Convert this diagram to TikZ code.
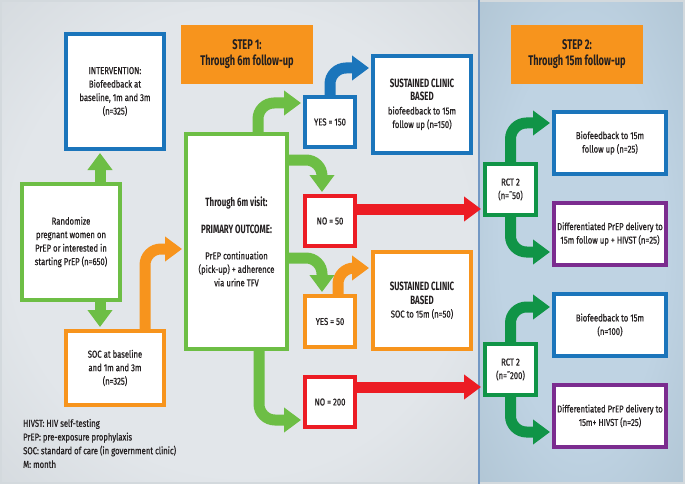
\documentclass[tikz,border=0pt]{standalone}
\usepackage{fontspec}
\setmainfont{Fira Sans}[FakeStretch=0.77, FakeBold=0.6]
\newfontfamily\headfont{Fira Sans}[FakeStretch=0.66]
\usetikzlibrary{arrows.meta}
\definecolor{verde}{HTML}{6DBE45}
\definecolor{verdeosc}{HTML}{109447}
\definecolor{azul}{HTML}{1B75BB}
\definecolor{rojo}{HTML}{EC1C24}
\definecolor{naranja}{HTML}{F7941D}
\definecolor{morado}{HTML}{7B2C8F}
\definecolor{texto}{HTML}{231F20}
\definecolor{fondoA}{HTML}{E2E6EA}
\definecolor{fondoM}{HTML}{C6CDD2}
\definecolor{fondoB}{HTML}{82929B}
\definecolor{fondoC}{HTML}{BFD3E3}
\definecolor{fondoN}{HTML}{A5BAC8}
\definecolor{fondoD}{HTML}{6F8996}
\definecolor{linea}{HTML}{7398C4}
\definecolor{marco}{HTML}{D3D9DD}
\pgfdeclareradialshading{fondoizq}{\pgfpoint{0bp}{0bp}}{color(0bp)=(fondoA); color(24bp)=(fondoA); color(50bp)=(fondoM); color(71bp)=(fondoB)}
\pgfdeclareradialshading{fondoder}{\pgfpoint{0bp}{0bp}}{color(0bp)=(fondoC); color(20bp)=(fondoC); color(50bp)=(fondoN); color(71bp)=(fondoD)}
\newcommand{\tit}{\headfont\bfseries\fontsize{12}{15}\selectfont}

\begin{document}
\begin{tikzpicture}[x=1pt, y=-1pt,
  caja/.style={draw, line width=4pt, fill=white, align=center, inner sep=0pt, text=texto, font=\fontsize{10}{13.5}\selectfont},
  paso/.style={fill=naranja, align=center, minimum width=132pt, minimum height=59pt, inner sep=0pt, text=texto, font=\headfont\bfseries\fontsize{14}{16}\selectfont},
  flecha/.style={line width=11pt, rounded corners=16pt, -{Triangle[width=24pt,length=17pt]}, shorten >=2pt},
  vh/.style={to path={|- (\tikztotarget)}},
  hv/.style={to path={-| (\tikztotarget)}}]
\useasboundingbox (0,0) rectangle (685,484);
% Fondo
\shade[shading=fondoizq] (0,0) rectangle (479,484);
\shade[shading=fondoder] (479,0) rectangle (685,484);
\draw[marco, line width=2pt] (1,1) rectangle (684,483);
\draw[linea, line width=2pt] (479,0) -- (479,484);
% Nodos
\node [paso] (paso1) at (247,54.5) {STEP 1:\\Through 6m follow-up};
\node [paso] (paso2) at (577,54.5) {STEP 2:\\Through 15m follow-up};

\node [caja, draw=verde, minimum width=98pt, minimum height=116pt] (rand) at (71,242) {Randomize\\pregnant women on\\PrEP or interested in\\starting PrEP (n=650)};
\node [caja, draw=azul, minimum width=98pt, minimum height=115pt] (interv) at (115,91.5) {INTERVENTION:\\Biofeedback at\\baseline, 1m and 3m\\(n=325)};
\node [caja, draw=naranja, minimum width=98pt, minimum height=74pt] (soc) at (115,368) {SOC at baseline\\and 1m and 3m\\(n=325)};
\node [caja, draw=verde, minimum width=101pt, minimum height=215pt] (visit) at (236.5,241.5) {{\tit Through 6m visit:}\\[14pt]{\tit PRIMARY OUTCOME:}\\[12pt]PrEP continuation\\(pick-up) + adherence\\via urine TFV};

\node [caja, draw=azul, minimum width=50pt, minimum height=50pt] (yes150) at (330,122) {YES = 150};
\node [caja, draw=rojo, minimum width=50pt, minimum height=50pt] (no50) at (330,221) {NO = 50};
\node [caja, draw=naranja, minimum width=50pt, minimum height=51pt] (yes50) at (330,321.5) {YES = 50};
\node [caja, draw=rojo, minimum width=50pt, minimum height=50pt] (no200) at (330,402) {NO = 200};

\node [caja, draw=azul, minimum width=98pt, minimum height=97pt] (sust1) at (422,104.5) {{\tit SUSTAINED CLINIC}\\{\tit BASED}\\biofeedback to 15m\\follow up (n=150)};
\node [caja, draw=naranja, minimum width=98pt, minimum height=97pt] (sust2) at (422,300.5) {{\tit SUSTAINED CLINIC}\\{\tit BASED}\\SOC to 15m (n=50)};

\node [caja, draw=verdeosc, minimum width=51pt, minimum height=51pt] (rct1) at (510.5,189.5) {RCT 2\\(n=˜50)};
\node [caja, draw=verdeosc, minimum width=51pt, minimum height=51pt] (rct2) at (510.5,369.5) {RCT 2\\(n=˜200)};

\node [caja, draw=azul, minimum width=112pt, minimum height=62pt] (bio1) at (610,143) {Biofeedback to 15m\\follow up (n=25)};
\node [caja, draw=morado, minimum width=112pt, minimum height=62pt] (diff1) at (610,234) {Differentiated PrEP delivery to\\15m follow up + HIVST (n=25)};
\node [caja, draw=azul, minimum width=112pt, minimum height=62pt] (bio2) at (610,325) {Biofeedback to 15m\\(n=100)};
\node [caja, draw=morado, minimum width=112pt, minimum height=62pt] (diff2) at (610,416) {Differentiated PrEP delivery to\\15m+ HIVST (n=25)};

\node [anchor=west, align=left, inner sep=0pt, text=texto, font=\fontsize{10}{13.7}\selectfont] (leyenda) at (23,443.5) {HIVST: HIV self-testing\\PrEP: pre-exposure prophylaxis\\SOC: standard of care (in government clinic)\\M: month};
% Flechas
% ---
% Randomize
% ---
\path ([xshift=29pt]rand.north) edge [flecha, verde] ([xshift=29pt]rand.north |- interv.south);
\path ([xshift=29pt]rand.south) edge [flecha, verde] ([xshift=29pt]rand.south |- soc.north);
\path ([xshift=30pt]soc.north) edge [flecha, naranja, vh] ([yshift=-7.5pt]visit.west);
% ---
% Through 6m visit
% ---
\path ([xshift=21.5pt]visit.north) edge [flecha, verde, vh] ([yshift=19pt]yes150.west);
\path ([yshift=81.5pt]visit.east) edge [flecha, verde, hv] ([xshift=-8pt]no50.north);
\path ([yshift=-16.5pt]visit.east) edge [flecha, verde, hv] ([xshift=-8pt]yes50.north);
\path ([xshift=22.5pt]visit.south) edge [flecha, verde, vh] ([yshift=-18pt]no200.west);
% ---
% YES / NO
% ---
\path (yes150.north) edge [flecha, azul, vh] ([yshift=36.5pt]sust1.west);
\path ([xshift=8pt]yes50.north) edge [flecha, naranja, vh] ([yshift=32.5pt]sust2.west);
\path ([yshift=12pt]no50.east) edge [flecha, rojo] ([yshift=12pt]no50.east -| rct1.west);
\path ([yshift=15pt]no200.east) edge [flecha, rojo] ([yshift=15pt]no200.east -| rct2.west);
% ---
% RCT 2
% ---
\path (rct1.north) edge [flecha, verdeosc, vh] ([yshift=20pt]bio1.west);
\path (rct1.south) edge [flecha, verdeosc, vh] ([yshift=-18pt]diff1.west);
\path (rct2.north) edge [flecha, verdeosc, vh] ([yshift=18pt]bio2.west);
\path (rct2.south) edge [flecha, verdeosc, vh] ([yshift=-16pt]diff2.west);
\end{tikzpicture}
\end{document}
